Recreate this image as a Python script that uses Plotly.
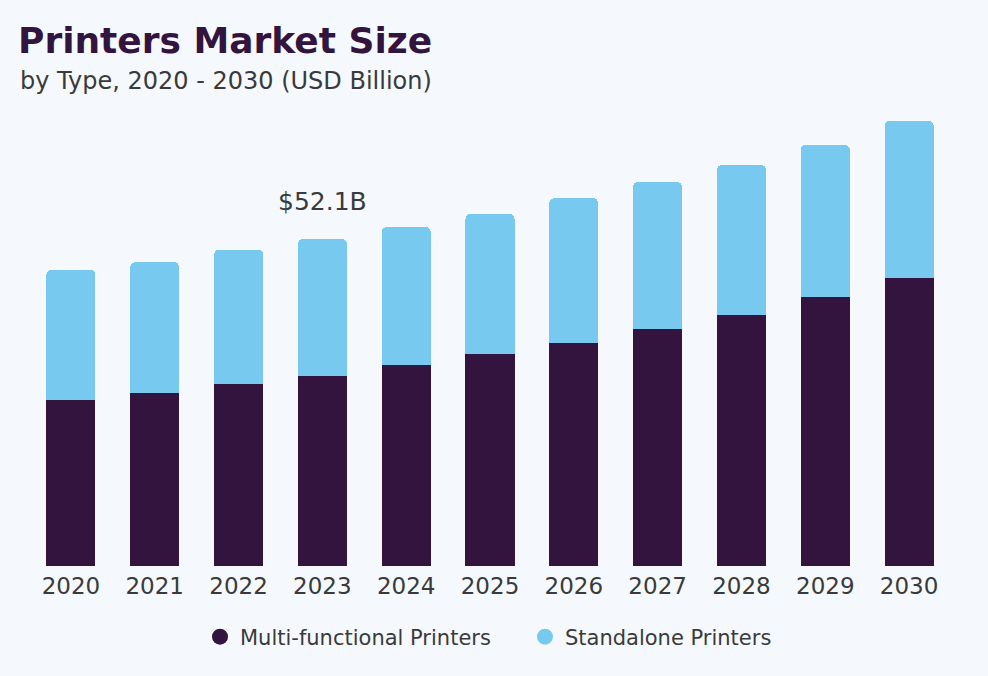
import plotly.graph_objects as go

years = ["2020", "2021", "2022", "2023", "2024", "2025", "2026", "2027", "2028", "2029", "2030"]
multi_functional = [26.4, 27.6, 29.0, 30.3, 32.0, 33.8, 35.5, 37.8, 40.0, 42.9, 45.9]
standalone = [20.8, 20.8, 21.4, 21.8, 22.0, 22.3, 23.1, 23.4, 23.9, 24.2, 25.0]
annot_year = "2023"
annot_text = "$52.1B"

dark = "#32143F"
light = "#78C9F0"
bg = "#F5F9FD"
font_family = "DejaVu Sans"
text_color = "#3a3a3a"

fig = go.Figure()
fig.add_trace(go.Bar(x=years, y=multi_functional, name="Multi-functional Printers",
                     marker=dict(color=dark, line=dict(width=0)), showlegend=False))
fig.add_trace(go.Bar(x=years, y=standalone, name="Standalone Printers",
                     marker=dict(color=light, line=dict(width=0)), showlegend=False))
fig.add_trace(go.Scatter(x=[years[0]], y=[None], mode="markers", name="Multi-functional Printers",
                         marker=dict(symbol="circle", size=16, color=dark), hoverinfo="skip"))
fig.add_trace(go.Scatter(x=[years[0]], y=[None], mode="markers", name="Standalone Printers",
                         marker=dict(symbol="circle", size=16, color=light), hoverinfo="skip"))

idx = years.index(annot_year)
fig.add_annotation(x=idx, y=multi_functional[idx] + standalone[idx], text=annot_text,
                   showarrow=False, yanchor="bottom", yshift=21,
                   font=dict(family=font_family, size=25, color=text_color))

fig.add_annotation(text="by Type, 2020 - 2030 (USD Billion)", xref="paper", yref="paper",
                   x=(18 - 29) / 922, y=(566 - 81) / 456, xanchor="left", yanchor="middle",
                   showarrow=False, font=dict(family=font_family, size=24, color=text_color))

fig.update_layout(
    width=988, height=676,
    paper_bgcolor=bg, plot_bgcolor=bg,
    barmode="stack", bargap=0.415, barcornerradius=5,
    margin=dict(l=29, r=37, t=110, b=110, autoexpand=False),
    title=dict(text="<b>Printers Market Size</b>", x=18 / 988, xanchor="left",
               xref="container", yref="container", y=1 - 40 / 676, yanchor="middle",
               font=dict(family=font_family, size=36, color=dark)),
    xaxis=dict(type="category", categoryorder="array", categoryarray=years,
               range=[-0.5, len(years) - 0.5], showgrid=False, showline=False, zeroline=False,
               tickfont=dict(family=font_family, size=23, color=text_color), ticks="",
               ticklabelstandoff=4, fixedrange=True),
    yaxis=dict(visible=False, range=[0, 72.65], fixedrange=True),
    legend=dict(orientation="h", x=(200 - 29) / 922, xanchor="left", y=(566 - 637) / 456,
                yanchor="middle", traceorder="normal", itemwidth=30, entrywidth=280,
                font=dict(family=font_family, size=21, color=text_color), bgcolor="rgba(0,0,0,0)"),
)

fig.write_html("out.html", config={"displayModeBar": False},
               post_script="document.body.style.margin='0';")
